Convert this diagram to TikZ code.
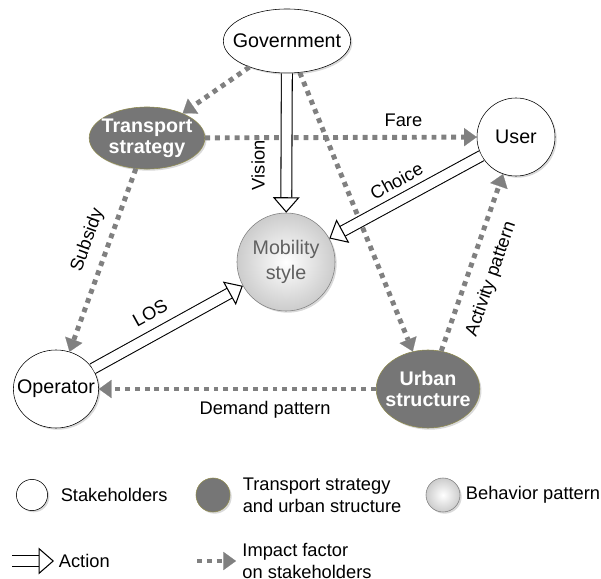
\documentclass[tikz,border=0pt]{standalone}
\usepackage{fontspec}
\setmainfont{Liberation Sans}
\usetikzlibrary{arrows.meta,shapes.geometric,shadows,positioning}

\definecolor{darkfill}{RGB}{118,118,118}
\definecolor{impactgray}{RGB}{128,128,128}

\begin{document}
\begin{tikzpicture}[
                    x=0.025cm, y=-0.025cm,
                    every node/.style={
                        inner sep=1pt,
                        font=\fontsize{13}{15.5}\selectfont
                    },
                    holder/.style={
                        circle,
                        draw,
                        fill=white,
                        inner sep=0pt,
                        drop shadow={opacity=0.3, shadow xshift=1.2pt, shadow yshift=-1.2pt},
                        font=\fontsize{14}{16}\selectfont
                    },
                    darkbox/.style={
                        ellipse,
                        draw=olive!45!gray,
                        fill=darkfill,
                        text=white,
                        align=center,
                        inner sep=0pt,
                        drop shadow={opacity=0.3, shadow xshift=1.2pt, shadow yshift=-1.2pt},
                        font=\fontsize{14}{15}\selectfont\bfseries
                    },
                    behave/.style={
                        circle,
                        draw=gray,
                        inner color=white,
                        outer color=gray!40,
                        text=gray!75!black,
                        align=center,
                        inner sep=0pt,
                        drop shadow={opacity=0.3, shadow xshift=1.2pt, shadow yshift=-1.2pt},
                        font=\fontsize{14}{18}\selectfont
                    },
                    action/.style={
                        draw=black,
                        line width=0.75pt,
                        double=white,
                        double distance=7pt,
                        -{Triangle[open, fill=white, length=11pt, width=19pt, line width=0.75pt]}
                    },
                    impact/.style={
                        draw=impactgray,
                        line width=3.5pt,
                        dash pattern=on 3.5pt off 3.5pt,
                        -{Triangle[length=9pt, width=13pt, line width=0.1pt]}
                    }
                ]
                    \useasboundingbox (0,0) rectangle (601,579);

                    \node[holder, ellipse, inner xsep=-6.5pt, minimum height=1.6cm] (gov) at (287,41) {Government};
                    \node[darkbox, inner xsep=-3.2pt, minimum height=1.55cm] (ts) at (147,138) {Transport\\strategy};
                    \node[holder, minimum size=1.95cm] (user) at (516,137) {User};
                    \node[behave, minimum size=2.45cm] (mob) at (286,262) {Mobility\\style};
                    \node[holder, ellipse, inner xsep=-6.2pt, minimum height=1.95cm] (op) at (56,389) {Operator};
                    \node[darkbox, inner xsep=-4.3pt, minimum height=1.95cm] (urban) at (428,389) {Urban\\structure};

                    % Edges
                    \draw[impact] (gov) -- (ts);
                    \draw[impact] (ts) -- node[pos=0.73, above=5pt] {Fare} (user);
                    \draw[impact] (gov) -- (urban);
                    \draw[impact] (ts) -- node[pos=0.43, sloped, above=6pt] {Subsidy} (op);
                    \draw[impact] (urban) -- node[pos=0.4, below=6pt] {Demand pattern} (op);
                    \draw[impact] (urban) -- node[pos=0.45, sloped, below=8pt] {Activity pattern} (user);
                    \draw[action] (gov) -- node[pos=0.66, rotate=90, anchor=south, inner sep=15pt] {Vision} (mob);
                    \draw[action] (user) -- node[pos=0.5, sloped, above=7pt] {Choice} (mob);
                    \draw[action] (op) -- node[pos=0.45, sloped, above=9pt] {LOS} (mob);

                    % Legend
                    \node[holder, minimum size=0.78cm] (k1) at (32,495) {};
                    \node[right=0.28cm of k1] (k1t) {Stakeholders};
                    \node[darkbox, minimum size=0.85cm] (k2) at (213,495) {};
                    \node[right=0.27cm of k2, align=left] (k2t) {Transport strategy\\and urban structure};
                    \node[behave, minimum size=0.85cm] (k3) at (443,495) {};
                    \node[right=0.1cm of k3] (k3t) {Behavior pattern};
                    \coordinate (a1) at (12,561);
                    \coordinate (a2) at (54,561);
                    \draw[action] (a1) -- (a2);
                    \node[right=0.08cm of a2] (a2t) {Action};
                    \coordinate (b1) at (197,561);
                    \coordinate (b2) at (236,561);
                    \draw[impact] (b1) -- (b2);
                    \node[right=0.12cm of b2, align=left] (b2t) {Impact factor\\on stakeholders};
                \end{tikzpicture}
\end{document}
